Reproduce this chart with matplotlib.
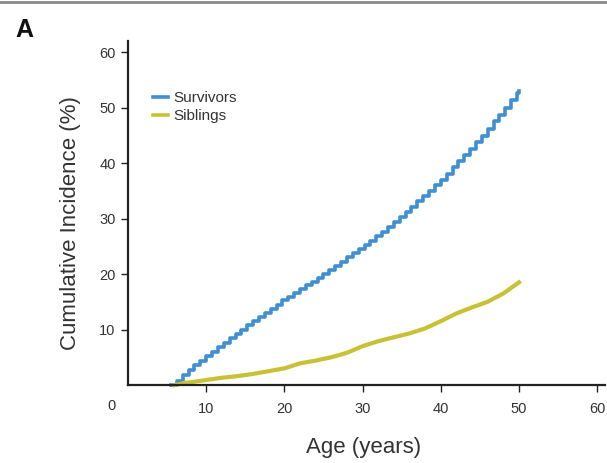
import matplotlib
matplotlib.use("Agg")
import matplotlib.pyplot as plt
from matplotlib.lines import Line2D

plt.rcParams['font.family'] = ['Liberation Sans', 'DejaVu Sans']

# Survivors: cumulative incidence (%) by age (years)
surv_age = [5.5, 6.25, 7.0, 7.75, 8.5, 9.25, 10.0, 10.75, 11.5, 12.25, 13.0, 13.75, 14.5, 15.25,
            16.0, 16.75, 17.5, 18.25, 19.0, 19.75, 20.5, 21.25, 22.0, 22.75, 23.5, 24.25, 25.0,
            25.75, 26.5, 27.25, 28.0, 28.75, 29.5, 30.25, 31.0, 31.75, 32.5, 33.25, 34.0, 34.75,
            35.5, 36.25, 37.0, 37.75, 38.5, 39.25, 40.0, 40.75, 41.5, 42.25, 43.0, 43.75, 44.5,
            45.25, 46.0, 46.75, 47.5, 48.25, 49.0, 49.75, 50.0]
surv_val = [0.0, 0.8, 1.8, 2.7, 3.55, 4.4, 5.2, 6.0, 6.85, 7.65, 8.4, 9.2, 10.0, 10.75, 11.5,
            12.25, 13.0, 13.75, 14.5, 15.25, 15.95, 16.6, 17.3, 18.0, 18.65, 19.3, 20.0, 20.75,
            21.5, 22.25, 23.0, 23.75, 24.5, 25.25, 26.0, 26.8, 27.65, 28.5, 29.3, 30.2, 31.15,
            32.1, 33.1, 34.1, 35.05, 36.0, 37.0, 38.1, 39.25, 40.4, 41.5, 42.6, 43.75, 44.9,
            46.2, 47.5, 48.75, 50.0, 51.3, 52.6, 53.0]

# Siblings
sib_age = [6, 7, 8, 9, 10, 12, 14, 16, 18, 20, 22, 24, 26, 28, 30, 32, 34, 36, 38, 40, 42, 44,
           46, 48, 49, 50]
sib_val = [0.0, 0.3, 0.5, 0.7, 0.9, 1.3, 1.6, 2.0, 2.5, 3.0, 3.9, 4.4, 5.0, 5.8, 7.0, 7.9, 8.6,
           9.3, 10.2, 11.5, 12.9, 14.0, 15.0, 16.5, 17.5, 18.5]

x_ticks = [10, 20, 30, 40, 50, 60]
y_ticks = [10, 20, 30, 40, 50, 60]

blue = '#3f8fd2'
yellow = '#c8c136'
txt = '#333333'

W, H = 607, 463
fig = plt.figure(figsize=(W / 100, H / 100), dpi=100)
ax = fig.add_axes([128 / W, (H - 385) / H, 477 / W, 344 / H])

ax.plot(surv_age, surv_val, color=blue, lw=2.6, drawstyle='steps-post', clip_on=False)
ax.plot(sib_age, sib_val, color=yellow, lw=3.0, clip_on=False)

ax.set_xlim(0, 61)
ax.set_ylim(0, 62)
ax.set_xticks(x_ticks)
ax.set_yticks(y_ticks)
for s in ['top', 'right']:
    ax.spines[s].set_visible(False)
for s in ['left', 'bottom']:
    ax.spines[s].set_linewidth(1.6)
    ax.spines[s].set_color('#222222')
ax.tick_params(direction='out', length=5, width=1.0, colors='#222222',
               labelsize=10.5, labelcolor=txt)
ax.tick_params(axis='x', pad=7)
ax.tick_params(axis='y', pad=4)

fig.text(111 / W, 1 - 406 / H, '0', ha='center', va='center', fontsize=10.5, color=txt)

ax.set_ylabel('Cumulative Incidence (%)', fontsize=16, color=txt)
ax.yaxis.set_label_coords((81 - 128) / 477, 0.47)
fig.text(364 / W, 1 - 447 / H, 'Age (years)', ha='center', va='center', fontsize=16, color=txt)

fig.text(24 / W, 1 - 30 / H, 'A', ha='center', va='center', fontsize=18,
         fontweight='bold', color='#111111')

handles = [Line2D([0], [0], color=blue, lw=2.6), Line2D([0], [0], color=yellow, lw=2.6)]
leg = ax.legend(handles, ['Survivors', 'Siblings'], loc='upper left',
                bbox_to_anchor=(19 / 477, 1 - 44 / 344), frameon=False, fontsize=11,
                handlelength=1.0, handletextpad=0.3, labelspacing=0.25, borderaxespad=0)
for t in leg.get_texts():
    t.set_color(txt)

fig.add_artist(Line2D([0, 1], [1 - 1.5 / H, 1 - 1.5 / H], color='#888888', lw=2,
                      transform=fig.transFigure))

fig.savefig('out.png', dpi=100)
